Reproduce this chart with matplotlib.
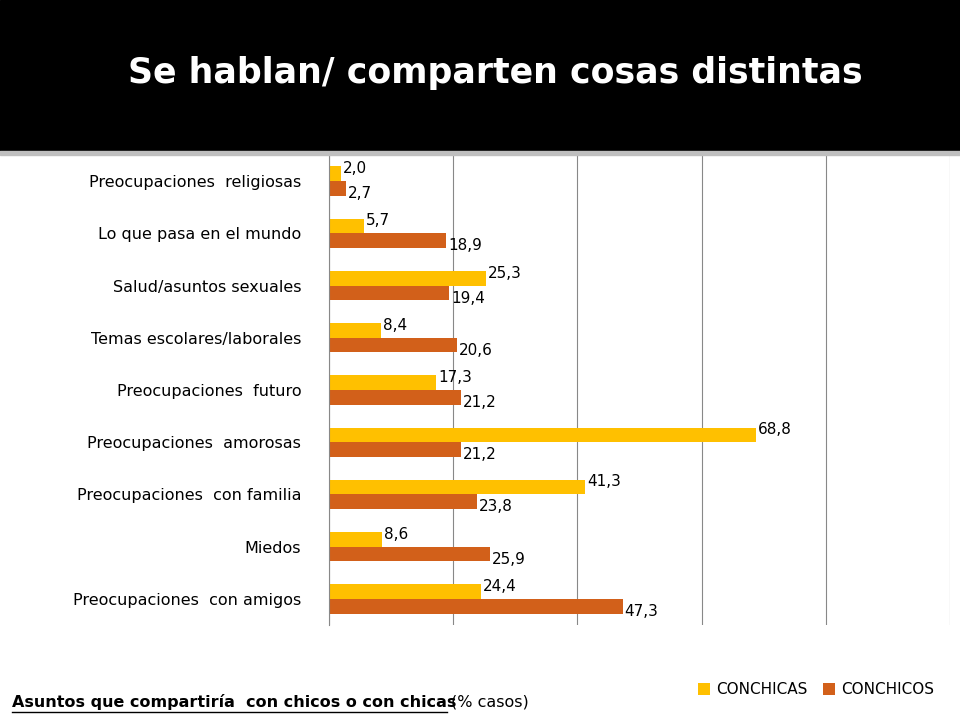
import matplotlib
matplotlib.use("Agg")
import matplotlib.pyplot as plt
import matplotlib.patches as mpatches
import numpy as np

categories = ["Preocupaciones  religiosas", "Lo que pasa en el mundo", "Salud/asuntos sexuales",
              "Temas escolares/laborales", "Preocupaciones  futuro", "Preocupaciones  amorosas",
              "Preocupaciones  con familia", "Miedos", "Preocupaciones  con amigos"]
con_chicas = [2.0, 5.7, 25.3, 8.4, 17.3, 68.8, 41.3, 8.6, 24.4]
con_chicos = [2.7, 18.9, 19.4, 20.6, 21.2, 21.2, 23.8, 25.9, 47.3]

yellow = "#FFC000"
orange = "#D2601A"

fig = plt.figure(figsize=(9.6, 7.2), dpi=100)
fig.patches.append(mpatches.Rectangle((0, 1 - 150/720), 1, 150/720, transform=fig.transFigure,
                                      color="black", zorder=0))
fig.patches.append(mpatches.Rectangle((0, 1 - 155/720), 1, 4/720, transform=fig.transFigure,
                                      color="#bfbfbf", zorder=0))
fig.text(0.516, 1 - 73/720, "Se hablan/ comparten cosas distintas", color="white",
         fontsize=25, fontweight="bold", ha="center", va="center")

ax = fig.add_axes([329/960, 1 - 625/720, 621/960, 470/720])
y = np.arange(len(categories))
h = 0.28
ax.barh(y - h/2, con_chicas, height=h, color=yellow, label="CONCHICAS")
ax.barh(y + h/2, con_chicos, height=h, color=orange, label="CONCHICOS")
for yi, v in zip(y, con_chicas):
    ax.text(v + 0.3, yi - h/2 - 0.1, f"{v:.1f}".replace(".", ","), fontsize=11, va="center")
for yi, v in zip(y, con_chicos):
    ax.text(v + 0.3, yi + h/2 + 0.1, f"{v:.1f}".replace(".", ","), fontsize=11, va="center")

ax.set_xlim(0, 100)
ax.set_ylim(len(categories) - 0.5, -0.5)
ax.set_yticks(y)
ax.set_yticklabels(categories, fontsize=11.5)
ax.set_xticks(np.arange(0, 101, 20))
ax.set_xticklabels([])
ax.tick_params(axis="x", length=0)
ax.tick_params(axis="y", length=0, pad=20)
ax.grid(axis="x", color="#888888", linewidth=0.8)
ax.set_axisbelow(True)
for s in ["top", "right", "bottom"]:
    ax.spines[s].set_visible(False)
ax.spines["left"].set_color("#888888")

fig.legend(loc="center", bbox_to_anchor=(0.85, 1 - 690/720), ncol=2, frameon=False,
           fontsize=11, handlelength=0.8, handleheight=0.8, columnspacing=1.0, handletextpad=0.4)

fig.text(0.012, 1 - 702/720, "Asuntos que compartiría  con chicos o con chicas", fontsize=11.5,
         fontweight="bold", va="center")
fig.text(0.47, 1 - 702/720, "(% casos)", fontsize=11.5, va="center")
fig.lines.append(plt.Line2D([0.012, 0.466], [1 - 712/720, 1 - 712/720], transform=fig.transFigure,
                            color="black", linewidth=1))

fig.savefig("out.png", dpi=100)
